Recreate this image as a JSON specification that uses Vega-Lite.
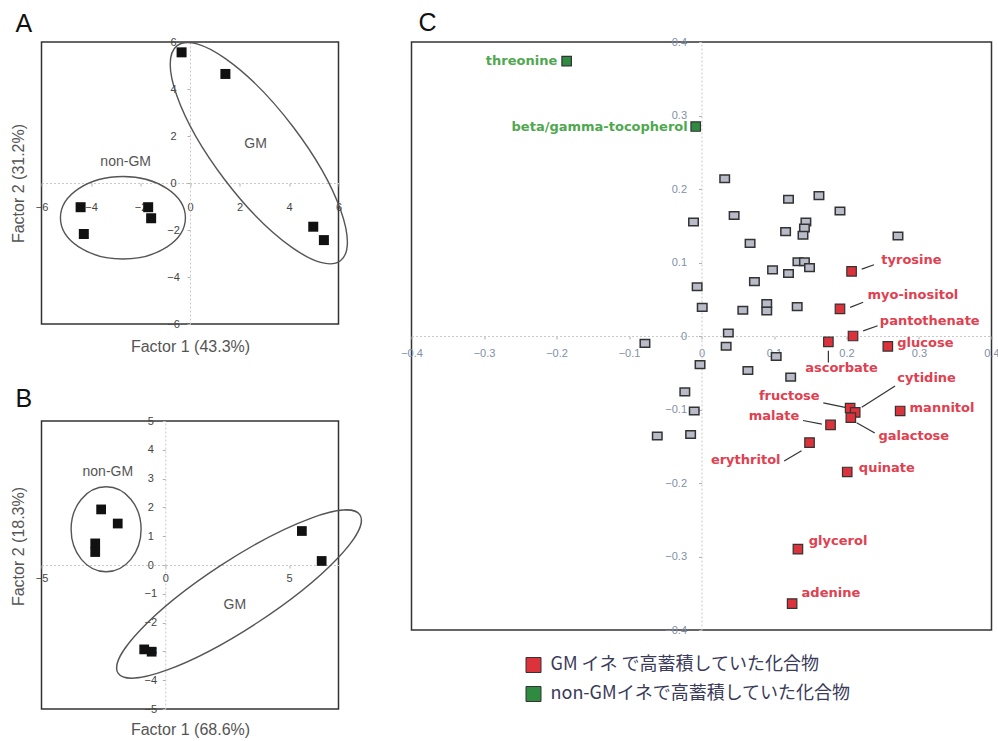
{
  "$schema": "https://vega.github.io/schema/vega-lite/v6.json",
  "background": "white",
  "padding": {"left": 9.5, "top": 10, "right": 0, "bottom": 0},
  "config": {
    "font": "Liberation Sans",
    "view": {"stroke": "#333", "strokeWidth": 1.5},
    "axis": {"grid": false, "domainColor": "#c8c8c8", "domainDash": [2, 2], "domainWidth": 1, "tickColor": "#b0b0b0", "tickSize": 3, "labelFlush": false, "labelOverlap": false, "labelFont": "Liberation Sans", "titleFont": "Liberation Sans", "titleFontWeight": "normal", "titleColor": "#555", "titleFontSize": 16},
    "title": {"font": "Liberation Sans", "fontSize": 25, "fontWeight": "normal", "color": "#111", "anchor": "start", "frame": "group", "baseline": "alphabetic"}
  },
  "datasets": {
    "ptsA": [
      {"x": -0.34, "y": 5.56, "group": "GM"}, {"x": 1.43, "y": 4.64, "group": "GM"},
      {"x": 4.98, "y": -1.86, "group": "GM"}, {"x": 5.41, "y": -2.43, "group": "GM"},
      {"x": -4.42, "y": -1.03, "group": "non-GM"}, {"x": -4.29, "y": -2.17, "group": "non-GM"},
      {"x": -1.69, "y": -1.03, "group": "non-GM"}, {"x": -1.57, "y": -1.5, "group": "non-GM"}
    ],
    "ellA": [{"x": -2.71, "y": -1.48, "group": "non-GM"}, {"x": 2.78, "y": 1.27, "group": "GM"}],
    "labA": [{"x": -2.6, "y": 0.89, "label": "non-GM"}, {"x": 2.65, "y": 1.66, "label": "GM"}],
    "ptsB": [
      {"x": -2.59, "y": 1.93, "group": "non-GM"}, {"x": -1.92, "y": 1.44, "group": "non-GM"},
      {"x": -2.83, "y": 0.75, "group": "non-GM"}, {"x": -2.83, "y": 0.45, "group": "non-GM"},
      {"x": 5.52, "y": 1.18, "group": "GM"}, {"x": 6.32, "y": 0.14, "group": "GM"},
      {"x": -0.85, "y": -2.93, "group": "GM"}, {"x": -0.55, "y": -3.01, "group": "GM"}
    ],
    "ellB": [{"x": -2.39, "y": 1.24, "group": "non-GM"}, {"x": 2.98, "y": -1.01, "group": "GM"}],
    "labB": [{"x": -2.32, "y": 3.24, "label": "non-GM"}, {"x": 2.81, "y": -1.39, "label": "GM"}],
    "gray": [
      {"x": 0.032, "y": 0.214}, {"x": -0.011, "y": 0.155}, {"x": 0.045, "y": 0.164}, {"x": 0.12, "y": 0.186},
      {"x": 0.162, "y": 0.191}, {"x": 0.191, "y": 0.17}, {"x": 0.144, "y": 0.155}, {"x": 0.142, "y": 0.147},
      {"x": 0.14, "y": 0.137}, {"x": 0.116, "y": 0.142}, {"x": 0.067, "y": 0.126}, {"x": 0.271, "y": 0.136},
      {"x": 0.133, "y": 0.101}, {"x": 0.142, "y": 0.101}, {"x": 0.149, "y": 0.093}, {"x": 0.098, "y": 0.09},
      {"x": 0.12, "y": 0.085}, {"x": 0.073, "y": 0.074}, {"x": -0.006, "y": 0.067}, {"x": 0.001, "y": 0.039},
      {"x": 0.057, "y": 0.035}, {"x": 0.09, "y": 0.044}, {"x": 0.09, "y": 0.034}, {"x": 0.132, "y": 0.04},
      {"x": 0.037, "y": 0.004}, {"x": 0.034, "y": -0.014}, {"x": 0.103, "y": -0.028}, {"x": -0.002, "y": -0.039},
      {"x": 0.064, "y": -0.047}, {"x": 0.123, "y": -0.056}, {"x": -0.023, "y": -0.076}, {"x": -0.01, "y": -0.102},
      {"x": -0.015, "y": -0.134}, {"x": -0.078, "y": -0.01}, {"x": -0.061, "y": -0.136}
    ],
    "colored": [
      {"name": "threonine", "x": -0.186, "y": 0.374, "cat": "non-GMイネで高蓄積していた化合物"},
      {"name": "beta/gamma-tocopherol", "x": -0.008, "y": 0.285, "cat": "non-GMイネで高蓄積していた化合物"},
      {"name": "tyrosine", "x": 0.207, "y": 0.088, "cat": "GM イネ で高蓄積していた化合物"},
      {"name": "myo-inositol", "x": 0.191, "y": 0.037, "cat": "GM イネ で高蓄積していた化合物"},
      {"name": "pantothenate", "x": 0.209, "y": 0.0, "cat": "GM イネ で高蓄積していた化合物"},
      {"name": "ascorbate", "x": 0.175, "y": -0.008, "cat": "GM イネ で高蓄積していた化合物"},
      {"name": "glucose", "x": 0.257, "y": -0.014, "cat": "GM イネ で高蓄積していた化合物"},
      {"name": "fructose", "x": 0.205, "y": -0.098, "cat": "GM イネ で高蓄積していた化合物"},
      {"name": "cytidine", "x": 0.212, "y": -0.104, "cat": "GM イネ で高蓄積していた化合物"},
      {"name": "galactose", "x": 0.206, "y": -0.111, "cat": "GM イネ で高蓄積していた化合物"},
      {"name": "mannitol", "x": 0.274, "y": -0.102, "cat": "GM イネ で高蓄積していた化合物"},
      {"name": "malate", "x": 0.178, "y": -0.121, "cat": "GM イネ で高蓄積していた化合物"},
      {"name": "erythritol", "x": 0.149, "y": -0.145, "cat": "GM イネ で高蓄積していた化合物"},
      {"name": "quinate", "x": 0.201, "y": -0.185, "cat": "GM イネ で高蓄積していた化合物"},
      {"name": "glycerol", "x": 0.133, "y": -0.29, "cat": "GM イネ で高蓄積していた化合物"},
      {"name": "adenine", "x": 0.125, "y": -0.364, "cat": "GM イネ で高蓄積していた化合物"}
    ],
    "labelsC": [
      {"name": "threonine", "x": -0.199, "y": 0.374, "side": "r", "grp": "non-GM"},
      {"name": "beta/gamma-tocopherol", "x": -0.019, "y": 0.284, "side": "r", "grp": "non-GM"},
      {"name": "fructose", "x": 0.163, "y": -0.082, "side": "r", "grp": "GM"},
      {"name": "malate", "x": 0.135, "y": -0.109, "side": "r", "grp": "GM"},
      {"name": "erythritol", "x": 0.109, "y": -0.169, "side": "r", "grp": "GM"},
      {"name": "tyrosine", "x": 0.248, "y": 0.103, "side": "l", "grp": "GM"},
      {"name": "myo-inositol", "x": 0.229, "y": 0.056, "side": "l", "grp": "GM"},
      {"name": "pantothenate", "x": 0.246, "y": 0.021, "side": "l", "grp": "GM"},
      {"name": "glucose", "x": 0.27, "y": -0.01, "side": "l", "grp": "GM"},
      {"name": "ascorbate", "x": 0.143, "y": -0.044, "side": "l", "grp": "GM"},
      {"name": "cytidine", "x": 0.27, "y": -0.057, "side": "l", "grp": "GM"},
      {"name": "mannitol", "x": 0.287, "y": -0.098, "side": "l", "grp": "GM"},
      {"name": "galactose", "x": 0.244, "y": -0.136, "side": "l", "grp": "GM"},
      {"name": "quinate", "x": 0.217, "y": -0.18, "side": "l", "grp": "GM"},
      {"name": "glycerol", "x": 0.148, "y": -0.279, "side": "l", "grp": "GM"},
      {"name": "adenine", "x": 0.138, "y": -0.35, "side": "l", "grp": "GM"}
    ],
    "arrows": [
      {"name": "tyrosine", "x": 0.238, "y": 0.097, "x2": 0.221, "y2": 0.091},
      {"name": "myo-inositol", "x": 0.223, "y": 0.046, "x2": 0.205, "y2": 0.039},
      {"name": "pantothenate", "x": 0.243, "y": 0.014, "x2": 0.223, "y2": 0.007},
      {"name": "ascorbate", "x": 0.175, "y": -0.036, "x2": 0.175, "y2": -0.02},
      {"name": "cytidine", "x": 0.267, "y": -0.068, "x2": 0.221, "y2": -0.097},
      {"name": "fructose", "x": 0.168, "y": -0.091, "x2": 0.198, "y2": -0.097},
      {"name": "malate", "x": 0.14, "y": -0.115, "x2": 0.166, "y2": -0.12},
      {"name": "galactose", "x": 0.239, "y": -0.132, "x2": 0.214, "y2": -0.118},
      {"name": "erythritol", "x": 0.114, "y": -0.17, "x2": 0.138, "y2": -0.156}
    ]
  },
  "spacing": 34,
  "resolve": {"scale": {"color": "independent"}},
  "hconcat": [
    {
      "bounds": "flush",
      "spacing": 97,
      "vconcat": [
        {
          "width": 297, "height": 282,
          "title": {"text": "A", "dx": -26, "offset": -1},
          "encoding": {
            "x": {"field": "x", "type": "quantitative", "scale": {"domain": [-6, 6], "nice": false},
              "axis": {"title": "Factor 1 (43.3%)", "values": [-6, -4, -2, 0, 2, 4, 6], "offset": -141, "labelColor": "#444", "labelFontSize": 11, "labelPadding": 15,
                "titleX": 148.5, "titleY": 163, "titleAlign": "center", "titleBaseline": "middle"}},
            "y": {"field": "y", "type": "quantitative", "scale": {"domain": [-6, 6], "nice": false},
              "axis": {"title": "Factor 2 (31.2%)", "values": [-6, -4, -2, 0, 2, 4, 6], "offset": -148.5, "labelColor": "#444", "labelFontSize": 11, "labelPadding": 14, "labelAlign": "center",
                "titleX": -171.5, "titleY": 141, "titleAlign": "center", "titleBaseline": "middle", "titleAngle": -90}}
          },
          "layer": [
            {"data": {"name": "ellA"}, "transform": [{"filter": "datum.group == 'non-GM'"}],
              "mark": {"type": "point", "shape": "M1,0C1,0.3645 0.5523,0.66 0,0.66C-0.5523,0.66 -1,0.3645 -1,0C-1,-0.3645 -0.5523,-0.66 0,-0.66C0.5523,-0.66 1,-0.3645 1,0Z", "filled": false, "color": "#555", "strokeWidth": 1.4, "size": 15625, "opacity": 1}},
            {"data": {"name": "ellA"}, "transform": [{"filter": "datum.group == 'GM'"}],
              "mark": {"type": "point", "shape": "M1,0C1,0.1767 0.5523,0.32 0,0.32C-0.5523,0.32 -1,0.1767 -1,0C-1,-0.1767 -0.5523,-0.32 0,-0.32C0.5523,-0.32 1,-0.1767 1,0Z", "filled": false, "color": "#555", "strokeWidth": 1.4, "size": 72900, "angle": 52.8, "opacity": 1}},
            {"data": {"name": "ptsA"}, "mark": {"type": "point", "shape": "square", "filled": true, "color": "#111", "size": 100, "opacity": 1}},
            {"data": {"name": "labA"}, "mark": {"type": "text", "fontSize": 14, "color": "#555", "font": "Liberation Sans"}, "encoding": {"text": {"field": "label"}}}
          ]
        },
        {
          "width": 297, "height": 288,
          "title": {"text": "B", "dx": -26, "offset": 3},
          "encoding": {
            "x": {"field": "x", "type": "quantitative", "scale": {"domain": [-5, 7], "nice": false},
              "axis": {"title": "Factor 1 (68.6%)", "values": [-5, 0, 5], "offset": -144, "labelColor": "#444", "labelFontSize": 11, "labelPadding": 4,
                "titleX": 148.5, "titleY": 164, "titleAlign": "center", "titleBaseline": "middle"}},
            "y": {"field": "y", "type": "quantitative", "scale": {"domain": [-5, 5], "nice": false},
              "axis": {"title": "Factor 2 (18.3%)", "values": [-5, -4, -3, -2, -1, 0, 1, 2, 3, 4, 5], "offset": -123.75, "labelColor": "#444", "labelFontSize": 11, "labelPadding": 12, "labelAlign": "center",
                "titleX": -146.75, "titleY": 125, "titleAlign": "center", "titleBaseline": "middle", "titleAngle": -90}}
          },
          "layer": [
            {"data": {"name": "ellB"}, "transform": [{"filter": "datum.group == 'non-GM'"}],
              "mark": {"type": "point", "shape": "M1,0C1,0.6705 0.5523,1.214 0,1.214C-0.5523,1.214 -1,0.6705 -1,0C-1,-0.6705 -0.5523,-1.214 0,-1.214C0.5523,-1.214 1,-0.6705 1,0Z", "filled": false, "color": "#555", "strokeWidth": 1.4, "size": 4900, "opacity": 1}},
            {"data": {"name": "ellB"}, "transform": [{"filter": "datum.group == 'GM'"}],
              "mark": {"type": "point", "shape": "M1,0C1,0.1298 0.5523,0.235 0,0.235C-0.5523,0.235 -1,0.1298 -1,0C-1,-0.1298 -0.5523,-0.235 0,-0.235C0.5523,-0.235 1,-0.1298 1,0Z", "filled": false, "color": "#555", "strokeWidth": 1.4, "size": 83521, "angle": -33.2, "opacity": 1}},
            {"data": {"name": "ptsB"}, "mark": {"type": "point", "shape": "square", "filled": true, "color": "#111", "size": 95, "opacity": 1}},
            {"data": {"name": "labB"}, "mark": {"type": "text", "fontSize": 14, "color": "#555", "font": "Liberation Sans"}, "encoding": {"text": {"field": "label"}}}
          ]
        }
      ]
    },
    {
      "width": 580, "height": 588,
      "title": {"text": "C", "dx": 7, "offset": 0},
      "encoding": {
        "x": {"field": "x", "type": "quantitative", "scale": {"domain": [-0.4, 0.4], "nice": false},
          "axis": {"title": null, "values": [-0.4, -0.3, -0.2, -0.1, 0, 0.1, 0.2, 0.3, 0.4], "format": ".1~f", "offset": -294, "labelColor": "#8090a8", "labelFontSize": 11, "labelPadding": 8}},
        "y": {"field": "y", "type": "quantitative", "scale": {"domain": [-0.4, 0.4], "nice": false},
          "axis": {"title": null, "values": [-0.4, -0.3, -0.2, -0.1, 0, 0.1, 0.2, 0.3, 0.4], "format": ".1~f", "offset": -290, "labelColor": "#8090a8", "labelFontSize": 11, "labelPadding": 12}}
      },
      "layer": [
        {"data": {"name": "gray"}, "mark": {"type": "point", "shape": "M-1,-0.8L1,-0.8L1,0.8L-1,0.8Z", "filled": true, "fill": "#b9bcc8", "stroke": "#333", "strokeWidth": 1.5, "size": 90, "opacity": 1}},
        {"data": {"name": "arrows"}, "mark": {"type": "rule", "color": "#333", "strokeWidth": 1.2}, "encoding": {"x2": {"field": "x2"}, "y2": {"field": "y2"}}},
        {"data": {"name": "colored"}, "mark": {"type": "point", "shape": "square", "filled": true, "size": 90, "stroke": "#333", "strokeWidth": 1.2, "opacity": 1},
          "encoding": {"color": {"field": "cat", "type": "nominal",
            "scale": {"domain": ["GM イネ で高蓄積していた化合物", "non-GMイネで高蓄積していた化合物"], "range": ["#dc323c", "#2e8b40"]},
            "legend": {"title": null, "orient": "none", "legendX": 113, "legendY": 614, "padding": 0, "symbolType": "square", "symbolSize": 225, "symbolStrokeColor": "#333", "symbolStrokeWidth": 1, "labelFont": "Noto Sans CJK JP", "labelFontSize": 18, "labelColor": "#3a3a5a", "labelOffset": 8, "rowPadding": 9, "labelLimit": 400}}}},
        {"data": {"name": "labelsC"}, "transform": [{"filter": "datum.side == 'r'"}],
          "mark": {"type": "text", "align": "right", "baseline": "middle", "font": "DejaVu Sans", "fontWeight": "bold", "fontSize": 13},
          "encoding": {"text": {"field": "name"}, "color": {"condition": {"test": "datum.grp == 'non-GM'", "value": "#4fa84f"}, "value": "#e0404f"}}},
        {"data": {"name": "labelsC"}, "transform": [{"filter": "datum.side == 'l'"}],
          "mark": {"type": "text", "align": "left", "baseline": "middle", "font": "DejaVu Sans", "fontWeight": "bold", "fontSize": 13},
          "encoding": {"text": {"field": "name"}, "color": {"condition": {"test": "datum.grp == 'non-GM'", "value": "#4fa84f"}, "value": "#e0404f"}}}
      ]
    }
  ]
}
